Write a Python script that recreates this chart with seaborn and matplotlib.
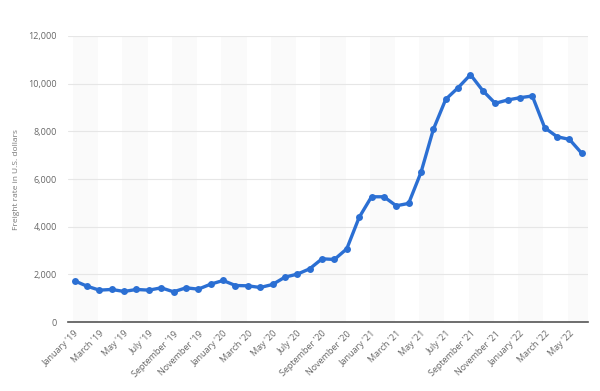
import numpy as np
import pandas as pd
import matplotlib
matplotlib.use('Agg')
import matplotlib.pyplot as plt
import seaborn as sns

# monthly freight rate, January 2019 - June 2022
months = (
    [f"{m} '19" for m in ['January', 'February', 'March', 'April', 'May', 'June', 'July',
                          'August', 'September', 'October', 'November', 'December']]
    + [f"{m} '20" for m in ['January', 'February', 'March', 'April', 'May', 'June', 'July',
                            'August', 'September', 'October', 'November', 'December']]
    + [f"{m} '21" for m in ['January', 'February', 'March', 'April', 'May', 'June', 'July',
                            'August', 'September', 'October', 'November', 'December']]
    + [f"{m} '22" for m in ['January', 'February', 'March', 'April', 'May', 'June']]
)
rates_2019 = [1733, 1510, 1343, 1372, 1288, 1372, 1343, 1440, 1274, 1440, 1385, 1594]
rates_2020 = [1748, 1538, 1525, 1455, 1580, 1888, 2014, 2237, 2657, 2630, 3075, 4393]
rates_2021 = [5258, 5258, 4880, 4980, 6281, 8085, 9344, 9831, 10377, 9705, 9177, 9315]
rates_2022 = [9412, 9483, 8153, 7776, 7664, 7078]
y_ticks = [0, 2000, 4000, 6000, 8000, 10000, 12000]

df = pd.DataFrame({'month': months,
                   'rate': rates_2019 + rates_2020 + rates_2021 + rates_2022})
df['idx'] = np.arange(len(df))

sns.set_theme(style='white')
plt.rcParams['font.family'] = ['Open Sans', 'DejaVu Sans']

fig = plt.figure(figsize=(6, 3.91), dpi=100)
ax = fig.add_axes([0.113, 0.176, 0.867, 0.732])

# alternating light bands behind every other pair of months
for start in range(0, len(df), 4):
    ax.axvspan(start - 0.15, start + 1.9, color='#fafafa', lw=0, zorder=0)

for t in y_ticks[1:]:
    ax.axhline(t, color='#e6e6e6', lw=0.8, zorder=1)

sns.lineplot(data=df, x='idx', y='rate', ax=ax, color='#2b6fd3', lw=2.4,
             marker='o', markersize=5, markeredgewidth=0, zorder=3)

ax.set_xlim(-0.55, len(df) - 0.5)
ax.set_ylim(0, 12000)
ax.set_yticks(y_ticks)
ax.set_yticklabels([f'{t:,}' for t in y_ticks], fontsize=6.5, color='#666666')
ax.set_xticks(df['idx'][::2])
ax.set_xticklabels(df['month'][::2], rotation=45, ha='right', rotation_mode='anchor',
                   fontsize=6.5, color='#666666')
ax.tick_params(axis='both', length=0, pad=8)
ax.tick_params(axis='x', pad=5)
ax.set_xlabel('')
ax.set_ylabel('Freight rate in U.S. dollars', fontsize=6, color='#777777', labelpad=6)

for side in ['top', 'right', 'left']:
    ax.spines[side].set_visible(False)
ax.spines['bottom'].set_color('#555555')
ax.spines['bottom'].set_linewidth(1.2)

fig.savefig('out.png', dpi=100)
